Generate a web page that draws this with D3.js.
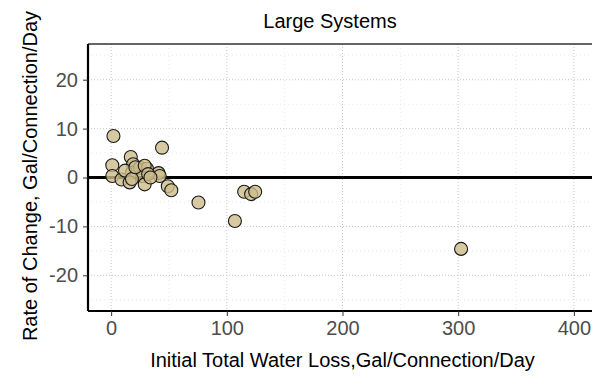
<!DOCTYPE html>
<html>
<head>
<meta charset="utf-8">
<script src="https://cdn.jsdelivr.net/npm/d3@7.9.0/dist/d3.min.js"></script>
<style>
  body { margin: 0; background: #fff; }
  svg { display: block; font-family: Arial, "Liberation Sans", sans-serif; }
</style>
</head>
<body>
<svg id="chart" width="592" height="376"></svg>
<script>
// Initial loss (gal/connection/day) vs rate of change
const initialLoss = [2, 44, 17, 1, 1, 9, 19, 18, 12, 16, 25, 31, 27, 29, 41, 42, 49, 52,
  18, 21, 29, 32, 34, 75.5, 107, 115, 121, 124.5, 302.5];
const rateOfChange = [8.5, 6.1, 4.2, 2.5, 0.3, -0.4, 2.7, 1.0, 1.4, -1.0, 2.0, 1.8, 0.3, -1.4,
  0.9, 0.3, -1.8, -2.6, -0.3, 2.1, 2.4, 0.7, 0.0, -5.1, -8.9, -2.9, -3.4, -2.9, -14.6];

const xTicks = [0, 100, 200, 300, 400];
const xMinor = [50, 150, 250, 350];
const yTicks = [-20, -10, 0, 10, 20];
const yMinor = [-25, -15, -5, 5, 15, 25];

const titleText = 'Large Systems';
const xLabel = 'Initial Total Water Loss,Gal/Connection/Day';
const yLabel = 'Rate of Change, Gal/Connection/Day';

const points = initialLoss.map((x, i) => ({ x, y: rateOfChange[i] }));

const panel = { left: 88, top: 44, right: 600, bottom: 311 };

const x = d3.scaleLinear().domain([-20, 422.6]).range([panel.left, panel.right]);
const y = d3.scaleLinear().domain([-27.3, 27.3]).range([panel.bottom, panel.top]);

const svg = d3.select('#chart');

// minor grid
const grid = svg.append('g');
grid.selectAll('.xminor').data(xMinor).join('line')
  .attr('x1', d => x(d)).attr('x2', d => x(d))
  .attr('y1', panel.top).attr('y2', panel.bottom)
  .attr('stroke', '#e3e3e3').attr('stroke-width', 0.8).attr('stroke-dasharray', '1,3');
grid.selectAll('.yminor').data(yMinor).join('line')
  .attr('y1', d => y(d)).attr('y2', d => y(d))
  .attr('x1', panel.left).attr('x2', panel.right)
  .attr('stroke', '#e3e3e3').attr('stroke-width', 0.8).attr('stroke-dasharray', '1,3');

// major grid
grid.selectAll('.xmajor').data(xTicks).join('line')
  .attr('x1', d => x(d)).attr('x2', d => x(d))
  .attr('y1', panel.top).attr('y2', panel.bottom)
  .attr('stroke', '#c8c8c8').attr('stroke-width', 1).attr('stroke-dasharray', '1,2');
grid.selectAll('.ymajor').data(yTicks).join('line')
  .attr('y1', d => y(d)).attr('y2', d => y(d))
  .attr('x1', panel.left).attr('x2', panel.right)
  .attr('stroke', '#c8c8c8').attr('stroke-width', 1).attr('stroke-dasharray', '1,2');

// zero reference line
svg.append('line')
  .attr('x1', panel.left).attr('x2', panel.right)
  .attr('y1', y(0)).attr('y2', y(0))
  .attr('stroke', '#000').attr('stroke-width', 3);

// points
svg.append('g').selectAll('circle').data(points).join('circle')
  .attr('cx', d => x(d.x))
  .attr('cy', d => y(d.y))
  .attr('r', 6.5)
  .attr('fill', '#cdbd8b')
  .attr('fill-opacity', 0.8)
  .attr('stroke', '#1a1a1a')
  .attr('stroke-width', 1.1);

// panel border (top) and axis lines
svg.append('line')
  .attr('x1', panel.left).attr('x2', panel.right)
  .attr('y1', panel.top).attr('y2', panel.top)
  .attr('stroke', '#333').attr('stroke-width', 1.5);

const xAxis = svg.append('g')
  .attr('transform', `translate(0,${panel.bottom})`)
  .call(d3.axisBottom(x).tickValues(xTicks).tickSize(5).tickPadding(5).tickFormat(d3.format('d')));
const yAxis = svg.append('g')
  .attr('transform', `translate(${panel.left},0)`)
  .call(d3.axisLeft(y).tickValues(yTicks).tickSize(5).tickPadding(5).tickFormat(d => d < 0 ? '-' + Math.abs(d) : d));

[xAxis, yAxis].forEach(a => {
  a.select('.domain').attr('stroke', '#000').attr('stroke-width', 2.2);
  a.selectAll('.tick line').attr('stroke', '#333').attr('stroke-width', 1);
  a.selectAll('.tick text').attr('fill', '#4d4d4d').attr('font-size', 20)
    .attr('font-family', 'Arial, "Liberation Sans", sans-serif');
});
xAxis.select('.domain').attr('d', `M${panel.left},0H${panel.right}`);
yAxis.select('.domain').attr('d', `M0,${panel.top}V${panel.bottom}`);

// title and axis labels
svg.append('text')
  .attr('x', 330).attr('y', 28)
  .attr('text-anchor', 'middle')
  .attr('font-size', 20).attr('fill', '#000')
  .text(titleText);

svg.append('text')
  .attr('x', 342.5).attr('y', 367)
  .attr('text-anchor', 'middle')
  .attr('font-size', 20).attr('fill', '#000')
  .text(xLabel);

svg.append('text')
  .attr('transform', 'translate(37,176) rotate(-90)')
  .attr('text-anchor', 'middle')
  .attr('font-size', 20).attr('fill', '#000')
  .text(yLabel);
</script>
</body>
</html>
